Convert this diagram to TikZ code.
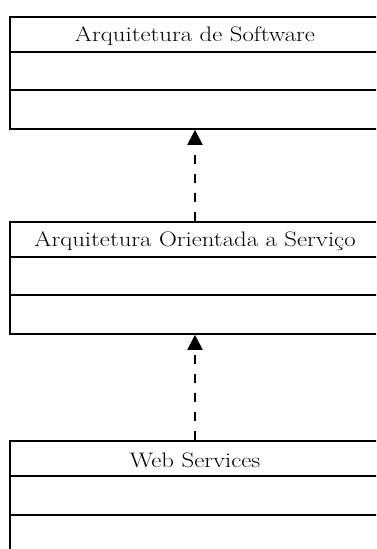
\documentclass[tikz,border=0pt]{standalone}
\usepackage{graphicx}
\usetikzlibrary{arrows.meta}
\newcommand{\widetitle}[1]{\scalebox{1.18}[1]{#1}}
\begin{document}
\begin{tikzpicture}[x=1pt,y=-1pt,
  classbox/.style={draw=black, line width=1.6pt, rectangle, minimum width=370pt, minimum height=112pt, inner sep=0pt},
  classname/.style={font=\fontsize{21}{24}\selectfont, anchor=center},
  compline/.style={line width=1.6pt},
  realizes/.style={line width=2pt, dash pattern=on 9.5pt off 9.5pt, -{Triangle[length=15pt,width=15pt]}}]
\useasboundingbox (0,0) rectangle (376,549);
\clip (0,0) rectangle (376,549);

% Arquitetura de Software
\node[classbox] (soft) at (195,73) {};
\node[classname] (softname) at (195,36) {\widetitle{Arquitetura de Software}};
\draw[compline] (10,52) -- (380,52);
\draw[compline] (10,90) -- (380,90);

% Arquitetura Orientada a Servico
\node[classbox] (soa) at (195,278) {};
\node[classname] (soaname) at (195,241) {\widetitle{Arquitetura Orientada a Serviço}};
\draw[compline] (10,257) -- (380,257);
\draw[compline] (10,295) -- (380,295);

% Web Services
\node[classbox] (ws) at (195,497) {};
\node[classname] (wsname) at (195,460) {\widetitle{Web Services}};
\draw[compline] (10,476) -- (380,476);
\draw[compline] (10,515) -- (380,515);

% realization arrows
\draw[realizes] (soa.north) -- (soft.south);
\draw[realizes] (ws.north) -- (soa.south);
\end{tikzpicture}
\end{document}
